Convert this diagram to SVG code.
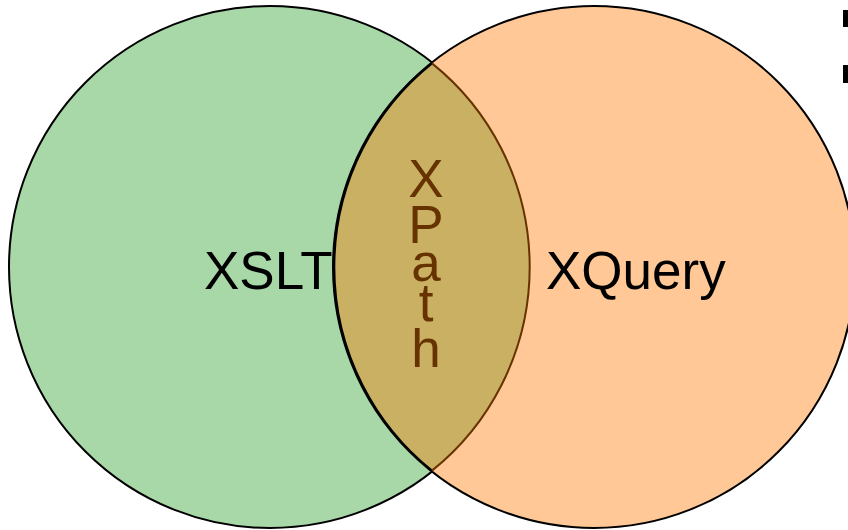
<svg xmlns="http://www.w3.org/2000/svg" width="848" height="530" viewBox="0 0 848 530">
<style>
.lbl{font-family:"Liberation Sans",Arial,sans-serif;font-size:53px;fill:#000}
.xp{font-family:"Liberation Sans",Arial,sans-serif;font-size:53px;fill:#663300;text-anchor:middle}
.mark{fill:#000}
</style>
<rect width="848" height="530" fill="#fff"/>
<g id="xslt">
<circle cx="270" cy="267" r="261" fill="#A8D8A8" stroke="#000" stroke-width="2"/>
<text class="lbl" x="204" y="289">XSLT</text>
</g>
<g id="xquery">
<circle cx="594" cy="267" r="261" fill="#FFC896" stroke="#000" stroke-width="2"/>
<text class="lbl" x="546" y="289">XQuery</text>
</g>
<g id="xpath">
<path d="M432,63.4 A261,261 0 0 1 432,470.6 A261,261 0 0 1 432,63.4 Z" fill="#C9B062"/>
<path d="M432,63.4 A261,261 0 0 0 432,470.6" fill="none" stroke="#000" stroke-width="2"/>
<path d="M432,63.4 A261,261 0 0 1 432,470.6" fill="none" stroke="#663300" stroke-width="2"/>
<text class="xp"><tspan x="426" y="197">X</tspan><tspan x="426" y="243">P</tspan><tspan x="426" y="281">a</tspan><tspan x="426" y="321">t</tspan><tspan x="426" y="367">h</tspan></text>
</g>
<g id="marks">
<rect class="mark" x="843" y="10" width="5" height="17"/>
<rect class="mark" x="843" y="65" width="5" height="18"/>
</g>
</svg>
